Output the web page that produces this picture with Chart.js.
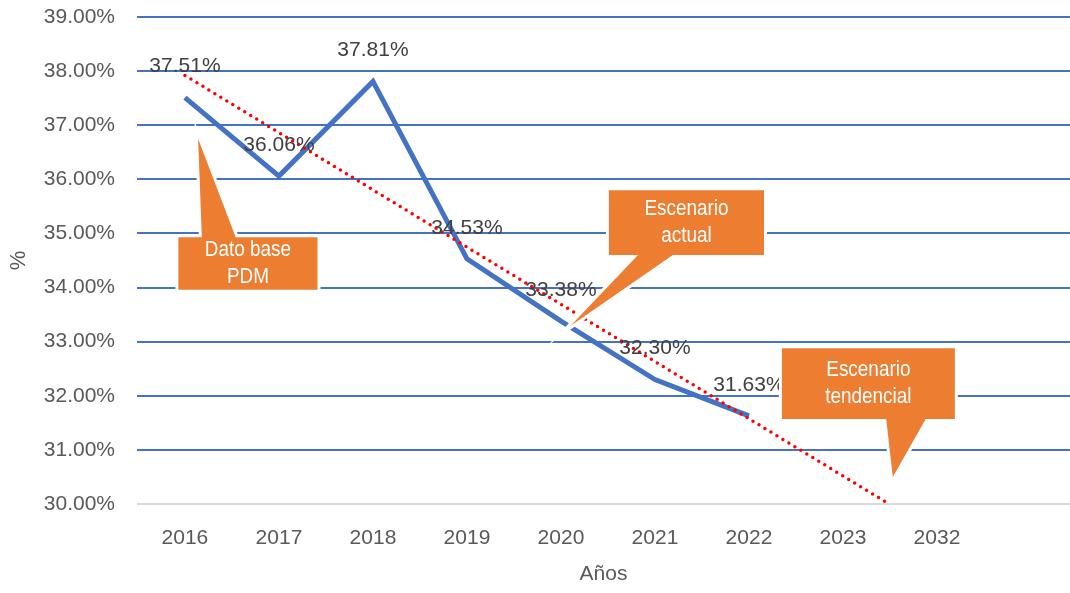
<!DOCTYPE html>
<html><head><meta charset="utf-8">
<script src="https://cdn.jsdelivr.net/npm/chart.js@4.4.1/dist/chart.umd.min.js"></script>
<style>html,body{margin:0;padding:0;background:#fff;overflow:hidden}#wrap{width:1070px;height:593px}</style>
</head><body>
<div id="wrap"><canvas id="c" width="1070" height="593"></canvas></div>
<script>
// ---- data ----
const categories = ['2016','2017','2018','2019','2020','2021','2022','2023','2032',''];
const values = [37.51, 36.06, 37.81, 34.53, 33.38, 32.30, 31.63];
const valueLabels = ['37.51%','36.06%','37.81%','34.53%','33.38%','32.30%','31.63%'];
const trendX = [0, 7.49];      // trendline start/end (category position)
const trendY = [37.92, 30.00]; // trendline start/end values
const yTickValues = [30,31,32,33,34,35,36,37,38,39];
const calloutTexts = [['Dato base','PDM'],['Escenario','actual'],['Escenario','tendencial']];

// ---- callout geometry (data units) ----
const calloutGeom = [
  {box:[-0.07,1.41,34.93,33.96], side:'top',    base:[0.18,0.54], tip:[0.14,36.75]},
  {box:[4.51,6.16,35.80,34.60],  side:'bottom', base:[4.82,5.19], tip:[4.10,33.29]},
  {box:[6.35,8.19,32.88,31.57],  side:'bottom', base:[7.46,7.88], tip:[7.53,30.50]}
];

const FONT = "'Liberation Sans', Arial, sans-serif";

const labelPlugin = {
  id:'valueLabels',
  afterDatasetsDraw(chart){
    const meta = chart.getDatasetMeta(1);
    const ctx = chart.ctx;
    ctx.save();
    ctx.font = "21px " + FONT;
    ctx.fillStyle = '#404040';
    ctx.textAlign = 'center';
    ctx.textBaseline = 'middle';
    meta.data.forEach((pt,i)=>{ ctx.fillText(valueLabels[i], pt.x, pt.y - 31); });
    ctx.restore();
  }
};

const calloutPlugin = {
  id:'callouts',
  afterDraw(chart){
    const xs = chart.scales.x, ys = chart.scales.y, ctx = chart.ctx;
    calloutGeom.forEach((c,k)=>{
      const x0 = xs.getPixelForValue(c.box[0]), x1 = xs.getPixelForValue(c.box[1]);
      const y0 = ys.getPixelForValue(c.box[2]), y1 = ys.getPixelForValue(c.box[3]);
      const ta = xs.getPixelForValue(c.base[0]), tb = xs.getPixelForValue(c.base[1]);
      const tx = xs.getPixelForValue(c.tip[0]), ty = ys.getPixelForValue(c.tip[1]);
      ctx.save();
      ctx.beginPath();
      if (c.side === 'top') {
        ctx.moveTo(x0,y0); ctx.lineTo(ta,y0); ctx.lineTo(tx,ty); ctx.lineTo(tb,y0);
        ctx.lineTo(x1,y0); ctx.lineTo(x1,y1); ctx.lineTo(x0,y1);
      } else {
        ctx.moveTo(x0,y0); ctx.lineTo(x1,y0); ctx.lineTo(x1,y1); ctx.lineTo(tb,y1);
        ctx.lineTo(tx,ty); ctx.lineTo(ta,y1); ctx.lineTo(x0,y1);
      }
      ctx.closePath();
      ctx.lineJoin = 'miter';
      ctx.strokeStyle = '#FFFFFF';
      ctx.lineWidth = 6;
      ctx.stroke();
      ctx.fillStyle = '#ED7D31';
      ctx.fill();
      ctx.font = "22px " + FONT;
      ctx.fillStyle = '#FFFFFF';
      ctx.textAlign = 'center';
      ctx.textBaseline = 'middle';
      const lines = calloutTexts[k];
      const cx = (x0+x1)/2, cy = (y0+y1)/2, lh = 27;
      ctx.translate(cx, cy);
      ctx.scale(0.86, 1);
      lines.forEach((t,j)=>{ ctx.fillText(t, 0, (j - (lines.length-1)/2)*lh); });
      ctx.restore();
    });
  }
};

new Chart(document.getElementById('c'), {
  type:'line',
  data:{
    datasets:[
      {
        label:'Tendencia',
        data: trendX.map((x,i)=>({x:x, y:trendY[i]})),
        borderColor:'#FF0000',
        borderWidth:3.5,
        borderDash:[0,7],
        borderCapStyle:'round',
        pointRadius:0,
        fill:false
      },
      {
        label:'%',
        data: values.map((v,i)=>({x:i, y:v})),
        borderColor:'#4472C4',
        borderWidth:5,
        borderJoinStyle:'miter',
        borderCapStyle:'butt',
        pointRadius:0,
        tension:0,
        fill:false
      }
    ]
  },
  options:{
    responsive:false,
    animation:false,
    devicePixelRatio:1,
    layout:{padding:{top:0,right:0,left:0,bottom:0}},
    plugins:{legend:{display:false}, tooltip:{enabled:false}},
    scales:{
      x:{
        type:'linear',
        min:-0.51, max:9.415,
        afterBuildTicks(scale){ scale.ticks = categories.map((c,i)=>({value:i})); },
        afterFit(scale){ scale.height = 89; scale.paddingLeft = 0; scale.paddingRight = 0; },
        grid:{display:false, drawTicks:false},
        border:{display:false},
        ticks:{
          autoSkip:false, maxRotation:0, padding:22,
          color:'#595959', font:{family:FONT, size:21},
          callback:(v)=>categories[v]
        },
        title:{display:true, text:'Años', color:'#595959', font:{family:FONT, size:21}, padding:{top:0,bottom:6}}
      },
      y:{
        min:30, max:39,
        afterBuildTicks(scale){ scale.ticks = yTickValues.map(v=>({value:v})); },
        afterFit(scale){ scale.width = 137; scale.paddingTop = 17; scale.paddingBottom = 0; },
        grid:{
          drawTicks:false,
          color:(ctx)=> ctx.tick && ctx.tick.value === 30 ? '#D9D9D9' : '#4472C4',
          lineWidth:2
        },
        border:{display:false},
        ticks:{
          padding:22, color:'#595959', font:{family:FONT, size:21},
          callback:(v)=>Number(v).toFixed(2)+'%'
        },
        title:{display:true, text:'%', color:'#595959', font:{family:FONT, size:22}, padding:{top:6,bottom:0}}
      }
    }
  },
  plugins:[labelPlugin, calloutPlugin]
});
</script>
</body></html>
